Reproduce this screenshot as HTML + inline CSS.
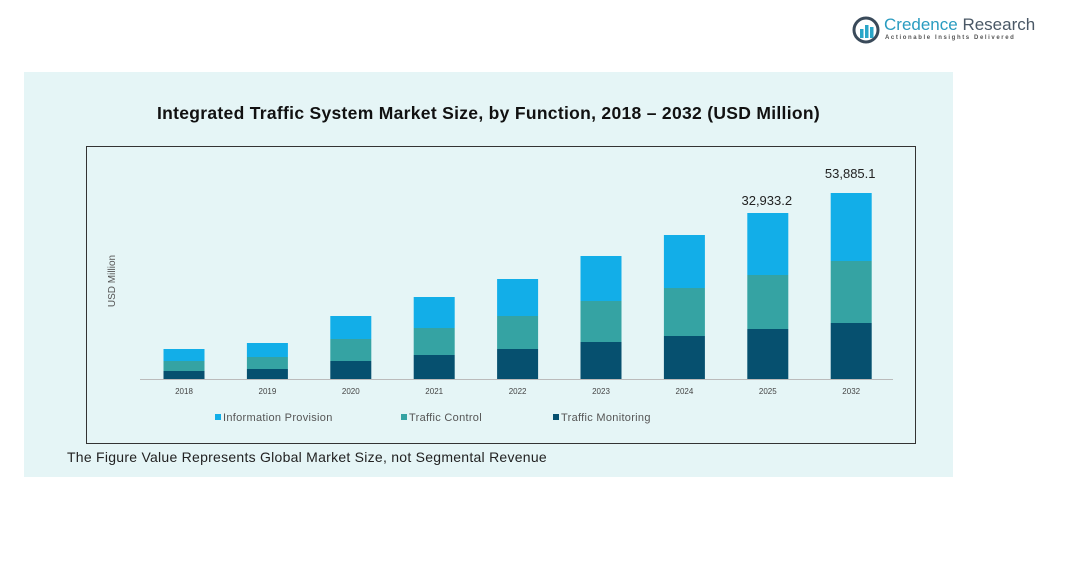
<!DOCTYPE html>
<html><head><meta charset="utf-8"><style>
body{margin:0;width:1076px;height:577px;background:#fff;position:relative;overflow:hidden;font-family:"Liberation Sans",sans-serif}
</style></head><body>
<div style="position:absolute;left:852px;top:14px;width:190px;height:32px">
<svg width="30" height="30" viewBox="0 0 30 30" style="position:absolute;left:0;top:1px">
<circle cx="14" cy="15" r="12" fill="none" stroke="#3a4a5a" stroke-width="3"/>
<rect x="8" y="14" width="3.5" height="9" fill="#2aa6c8"/><rect x="13" y="10" width="3.5" height="13" fill="#2aa6c8"/><rect x="18" y="12" width="3.5" height="11" fill="#2aa6c8"/>
</svg>
<div style="position:absolute;left:32px;top:1px;font-size:17px;color:#2a9cc0;white-space:nowrap">Credence <span style="color:#4a5866">Research</span></div>
<div style="position:absolute;left:33px;top:21px;font-size:6px;letter-spacing:1.6px;color:#555;white-space:nowrap;font-weight:bold">Actionable Insights Delivered</div>
</div>
<div style="position:absolute;left:24px;top:72px;width:929px;height:405px;background:#e5f5f6"></div>
<div style="position:absolute;left:24px;width:929px;top:103px;text-align:center;font-weight:bold;font-size:17.5px;letter-spacing:0.3px;color:#111">Integrated Traffic System Market Size, by Function, 2018 – 2032 (USD Million)</div>
<div style="position:absolute;left:86px;top:146px;width:828px;height:296px;border:1px solid #333"></div>
<div style="position:absolute;left:67px;top:449px;font-size:14px;letter-spacing:0.26px;color:#222">The Figure Value Represents Global Market Size, not Segmental Revenue</div>
<svg id="c" width="1076" height="577" style="position:absolute;left:0;top:0"></svg>
<script>
const years=["2018","2019","2020","2021","2022","2023","2024","2025","2032"];
const monitoring=[2318,2897,5215,6953,8691,10719,12457,14485,16223];
const control=[2897,3476,6373,7822,9560,11878,13906,15644,17961];
const info=[3476,4056,6663,8981,10719,13037,15354,17961,19700];
const totalLabels={"2025":"32,933.2","2032":"53,885.1"};
const seriesNames=["Information Provision","Traffic Control","Traffic Monitoring"];
const colors=["#12aee8","#35a3a3","#06506f"];
const svg=document.getElementById('c');const NS="http://www.w3.org/2000/svg";
const base=379,yMax=53885.1,yPix=186;
const y=v=>base-v/yMax*yPix;
const x=i=>184+i*83.4;
function mk(t,a){const e=document.createElementNS(NS,t);for(const k in a)e.setAttribute(k,a[k]);svg.appendChild(e);return e;}
const ax=mk('line',{x1:140,x2:893,y1:base+0.5,y2:base+0.5,stroke:'#bbb'});


years.forEach((yr,i)=>{
  const stack=[[monitoring[i],colors[2],'monitoring'],[control[i],colors[1],'control'],[info[i],colors[0],'info']];
  let acc=0;
  stack.forEach(s=>{
    const r=mk('rect',{x:x(i)-20.5,width:41,y:y(acc+s[0]),height:y(acc)-y(acc+s[0]),fill:s[1]});
    
    
    acc+=s[0];
  });
  const t=mk('text',{x:x(i),y:394,'font-size':8,'text-anchor':'middle',fill:'#444'});t.textContent=yr;
  
  
  if(totalLabels[yr]){const off=yr==="2032"?15:8;const l=mk('text',{x:x(i)-1,y:y(acc)-off,'font-size':13,'text-anchor':'middle',fill:'#222'});l.textContent=totalLabels[yr];
  
  }
});
const yt=mk('text',{x:0,y:0,'font-size':10,'text-anchor':'middle',fill:'#555',transform:'translate(115,281) rotate(-90)'});yt.textContent='USD Million';


const lx=[215,401,553];
seriesNames.forEach((n,i)=>{
  const g=mk('g',{});
  
  
  const r=document.createElementNS(NS,'rect');r.setAttribute('x',lx[i]);r.setAttribute('y',414);r.setAttribute('width',6);r.setAttribute('height',6);r.setAttribute('fill',colors[i]);g.appendChild(r);
  const t=document.createElementNS(NS,'text');t.setAttribute('x',lx[i]+8);t.setAttribute('y',421);t.setAttribute('font-size',11);t.setAttribute('letter-spacing',0.3);t.setAttribute('fill','#555');t.textContent=n;g.appendChild(t);
});
</script>
</body></html>
